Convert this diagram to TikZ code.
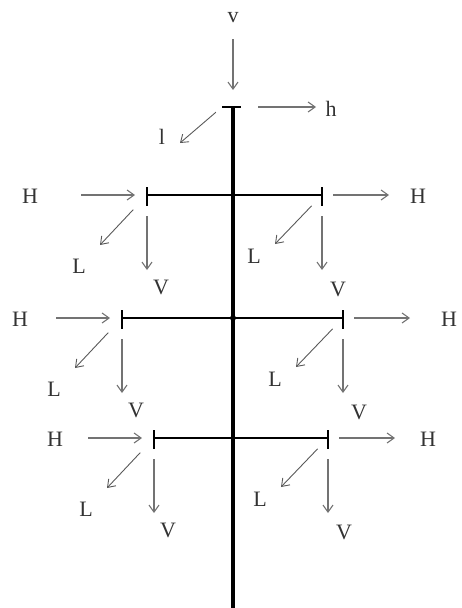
\documentclass[tikz,border=0pt]{standalone}
\usepackage{fontspec}
\setmainfont{Liberation Serif}
\usetikzlibrary{arrows.meta,positioning}

\begin{document}
\begin{tikzpicture}[x=1pt,y=-1pt,font=\fontsize{22}{24}\selectfont,
  >={Straight Barb[length=7pt,width=10pt]},
  mast/.style={line width=3.2pt},
  arm/.style={line width=2.8pt},
  tick/.style={line width=2.6pt},
  flow/.style={->,draw=black!55,line width=1.1pt},
  slant/.style={->,draw=black!65,line width=0.9pt},
  lab/.style={inner sep=0pt,text=black!80}]
  \useasboundingbox (0,0) rectangle (461,608);
  % mast and top cap
  \coordinate (capl) at (222,107);
  \coordinate (cap) at (233,107);
  \coordinate (capr) at (241,107);
  \coordinate (foot) at (233,608);
  \draw[mast] (cap) -- (foot);
  \draw[arm] (capl) -- (capr);
  \fill (233,318) circle[radius=3pt];
  % loads at the top
  \node[lab] (v) at (233,18) {v};
  \draw[flow,shorten <=16pt,shorten >=17pt] (v) -- (cap);
  \coordinate (ha) at (316,107);
  \draw[flow,shorten <=17pt] (capr) -- (ha);
  \node[lab] (h) at (331,109) {h};
  \coordinate (la) at (180,143);
  \draw[slant,shorten <=8pt] (capl) -- (la);
  \node[lab] (l) at (162,137) {l};
  % cross arms with their loads
  \foreach \y/\a/\b/\p/\q/\k in {195/147/322/30/418/1,318/122/343/20/449/2,438/154/328/55/428/3}{
    \coordinate (l\k) at (\a,\y);
    \coordinate (r\k) at (\b,\y);
    \draw[arm] (l\k) -- (r\k);
    \draw[tick] ([yshift=8pt]l\k) -- ([yshift=-11pt]l\k);
    \draw[tick] ([yshift=8pt]r\k) -- ([yshift=-11pt]r\k);
    % left end
    \node[lab] (hl\k) at (\p,\y+1) {H};
    \coordinate (hs\k) at (\a-66,\y);
    \draw[flow,shorten >=12pt] (hs\k) -- (l\k);
    \coordinate (le\k) at (\a-47,\y+50);
    \draw[slant,shorten <=20pt] (l\k) -- (le\k);
    \node[lab] (ll\k) at (\a-68,\y+71) {L};
    \coordinate (ve\k) at (\a,\y+75);
    \draw[flow,shorten <=21pt] (l\k) -- (ve\k);
    \node[lab] (vl\k) at (\a+14,\y+92) {V};
    % right end
    \coordinate (he\k) at (\b+67,\y);
    \draw[flow,shorten <=11pt] (r\k) -- (he\k);
    \node[lab] (hr\k) at (\q,\y+1) {H};
    \coordinate (re\k) at (\b-47,\y+49);
    \draw[slant,shorten <=15pt] (r\k) -- (re\k);
    \node[lab] (lr\k) at (\b-68,\y+61) {L};
    \coordinate (we\k) at (\b,\y+75);
    \draw[flow,shorten <=21pt] (r\k) -- (we\k);
    \node[lab] (vr\k) at (\b+16,\y+94) {V};
  }
\end{tikzpicture}
\end{document}
